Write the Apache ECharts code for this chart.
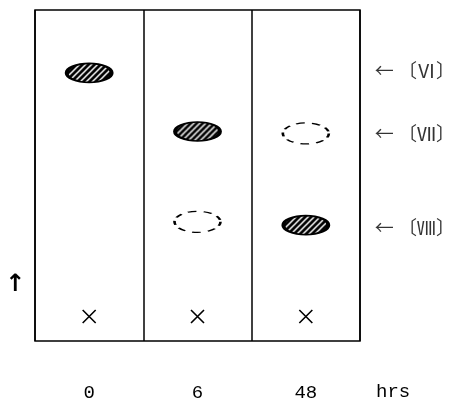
<!DOCTYPE html>
<html>
<head>
<meta charset="utf-8">
<style>
  html, body { margin: 0; padding: 0; background: #fff; }
  #main { width: 458px; height: 402px; }
</style>
<script src="https://cdn.jsdelivr.net/npm/echarts@6/dist/echarts.min.js"></script>
</head>
<body>
<div id="main"></div>
<script>
// lanes (sampling time, hrs)
var lanes = ['0', '6', '48'];
// spot positions on the plate: [lane index, height above bottom edge in %]
var stainedSpots = [[0, 81], [1, 63.3], [2, 35]];
var faintSpots = [[2, 62.7], [1, 36]];
var origins = [[0, 7.4], [1, 7.4], [2, 7.4]];
// compound markers on the right
var compounds = ['← 〔Ⅵ〕', '← 〔Ⅶ〕', '← 〔Ⅷ〕'];
var compoundLevels = [81.5, 62.7, 34.3];

var myChart = echarts.init(document.getElementById('main'));

// hatch pattern for the stained spots: black with white diagonal streaks
var hatch = document.createElement('canvas');
hatch.width = 6; hatch.height = 6;
var ctx = hatch.getContext('2d');
ctx.fillStyle = '#000';
ctx.fillRect(0, 0, 6, 6);
ctx.strokeStyle = '#fff';
ctx.lineWidth = 1.5;
ctx.beginPath();
ctx.moveTo(-1, 7); ctx.lineTo(7, -1);
ctx.moveTo(-1, 1); ctx.lineTo(1, -1);
ctx.moveTo(5, 7); ctx.lineTo(7, 5);
ctx.stroke();

var spotSize = [45, 19];

var labelData = compoundLevels.map(function (v, i) {
  return { value: [2, v], label: { formatter: compounds[i] } };
});

var option = {
  animation: false,
  grid: {
    left: 35, right: 98, top: 10, bottom: 54,
    show: true,
    borderColor: '#000',
    borderWidth: 1.5,
    backgroundColor: '#fff'
  },
  xAxis: {
    type: 'category',
    data: lanes,
    boundaryGap: true,
    name: 'hrs',
    nameLocation: 'end',
    nameGap: 16,
    nameTextStyle: {
      color: '#000', fontSize: 19, fontFamily: 'Liberation Mono',
      verticalAlign: 'top', padding: [41, 0, 0, 0]
    },
    axisLine: { show: false },
    axisTick: { show: false },
    splitLine: { show: true, lineStyle: { color: '#000', width: 1.5 } },
    axisLabel: {
      color: '#000', fontSize: 19, fontFamily: 'Liberation Mono', margin: 42
    }
  },
  yAxis: {
    type: 'value',
    min: 0,
    max: 100,
    axisLine: { show: false },
    axisTick: { show: false },
    axisLabel: { show: false },
    splitLine: { show: false }
  },
  graphic: [{
    type: 'text',
    left: 5,
    top: 273,
    style: { text: '↑', fontSize: 24, fontWeight: 'bold', fill: '#000', fontFamily: 'DejaVu Sans' }
  }],
  series: [
    {
      name: 'stained',
      type: 'scatter',
      symbol: 'circle',
      symbolSize: spotSize,
      data: stainedSpots,
      itemStyle: {
        // symbol is drawn as a unit shape scaled up, so scale the pattern back down
        color: {
          image: hatch, repeat: 'repeat',
          scaleX: 2 / spotSize[0], scaleY: 2 / spotSize[1]
        },
        borderColor: '#000',
        borderWidth: 2.5,
        opacity: 1
      }
    },
    {
      name: 'faint',
      type: 'scatter',
      symbol: 'circle',
      symbolSize: [46, 21],
      data: faintSpots,
      itemStyle: {
        color: 'rgba(255,255,255,0)',
        borderColor: '#000',
        borderWidth: 1.8,
        borderType: [6, 5],
        opacity: 1
      }
    },
    {
      name: 'origin',
      type: 'scatter',
      symbol: 'path://M0,0L10,10M10,0L0,10',
      symbolSize: 13,
      data: origins,
      itemStyle: {
        color: 'none',
        borderColor: '#000',
        borderWidth: 1.6,
        opacity: 1
      }
    },
    {
      name: 'compounds',
      type: 'scatter',
      symbolSize: 0,
      data: labelData,
      silent: true,
      label: {
        show: true,
        position: 'right',
        distance: 69,
        color: '#000',
        fontSize: 19,
        fontFamily: 'Noto Sans CJK JP'
      }
    }
  ]
};

myChart.setOption(option);
</script>
</body>
</html>
